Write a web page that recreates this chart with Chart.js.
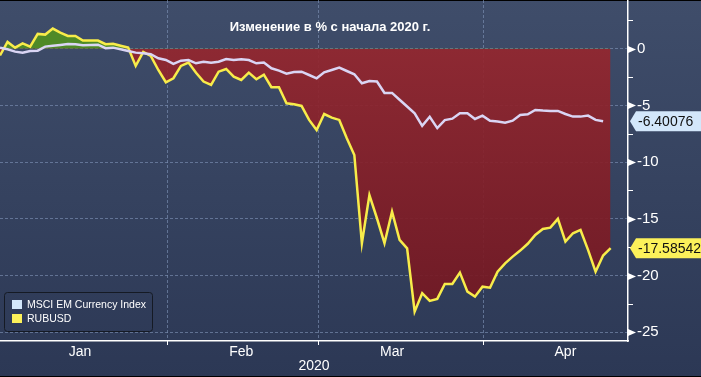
<!DOCTYPE html>
<html>
<head>
<meta charset="utf-8">
<script src="https://cdn.jsdelivr.net/npm/chart.js@4"></script>
<style>
  html, body { margin: 0; padding: 0; background: #000; }
  #wrap { width: 701px; height: 377px; }
</style>
</head>
<body>
<div id="wrap"><canvas id="chart_rubMsci" width="701" height="377"></canvas></div>
<script>
// values, one per trading day (Dec 31 .. Apr 24)
var chartTitle = 'Изменение в % с начала 2020 г.';
var seriesNames = ['MSCI EM Currency Index', 'RUBUSD'];

var msci = [
  0.09, -0.05, -0.26, -0.35, -0.20, -0.18, 0.18, 0.26, 0.33, 0.41,
  0.39, 0.30, 0.33, 0.35, 0.04, 0.09, -0.05, -0.20, -0.35, -0.41,
  -0.49, -0.85, -1.00, -1.35, -1.06, -1.00, -1.29, -1.15, -1.23, -1.15,
  -0.91, -1.00, -0.94, -1.00, -1.29, -1.23, -1.73, -1.94, -2.20, -2.05,
  -2.03, -2.32, -2.61, -2.08, -1.88, -1.67, -1.97, -2.26, -3.05, -2.85,
  -2.90, -3.90, -3.90, -4.50, -5.10, -5.70, -6.80, -6.00, -7.00, -6.30,
  -6.17, -5.70, -5.70, -6.20, -5.90, -6.35, -6.43, -6.52, -6.35, -5.85,
  -5.79, -5.40, -5.46, -5.49, -5.49, -5.76, -5.99, -5.99, -5.90, -6.28,
  -6.40076
];

var rubusd = [
  -0.60, 0.59, 0.09, 0.47, 0.18, 1.30, 1.24, 1.77, 1.41, 1.12,
  1.12, 0.71, 0.71, 0.71, 0.39, 0.44, 0.26, 0.09, -1.52, -0.29,
  -0.64, -1.88, -2.96, -2.61, -1.52, -1.23, -2.12, -2.90, -3.20, -2.03,
  -1.79, -2.47, -2.76, -2.11, -2.70, -2.29, -3.40, -3.40, -4.81, -4.90,
  -5.05, -6.28, -7.17, -5.76, -6.08, -6.28, -7.90, -9.37, -17.15, -12.90,
  -14.95, -17.15, -14.37, -16.86, -17.60, -23.18, -21.56, -22.24, -22.06, -20.74,
  -20.74, -19.74, -21.42, -21.86, -20.98, -21.07, -19.66, -18.92, -18.33, -17.80,
  -17.20, -16.42, -15.89, -15.78, -15.00, -17.01, -16.27, -15.98, -17.74, -19.66,
  -18.24, -17.58542
];

// x axis is trading-day index
var monthLabels = ['Jan', 'Feb', 'Mar', 'Apr'];
var monthCenters = [10.6, 32, 52, 75];
var monthStarts = [22.2, 42.2, 64.1];
var yearLabel = '2020';
var yTicks = [2.5, 0, -2.5, -5, -7.5, -10, -12.5, -15, -17.5, -20, -22.5, -25];

var xMin = 0, xMax = 83.3;
var yMin = -25.77, yMax = 4.29;

var seriesColors = ['#dad5f4', '#f8ec4a'];
var boxColors = ['#d3e7fb', '#fcf15a'];
var gridColor = 'rgba(125,145,180,0.65)';
var fontFamily = '"Liberation Sans", Arial, sans-serif';

var canvas = document.getElementById('chart_rubMsci');
var c2d = canvas.getContext('2d');
var redFill = c2d.createLinearGradient(0, 49, 0, 341);
redFill.addColorStop(0, 'rgba(148,38,46,0.92)');
redFill.addColorStop(1, 'rgba(112,22,32,0.92)');

function noPadding(scale) {
    scale.paddingTop = 0;
    scale.paddingBottom = 0;
    scale.paddingLeft = 0;
    scale.paddingRight = 0;
}

var chart_rubMsci = new Chart(canvas, {
    type: 'line',
    data: {
        datasets: [
            {
                label: seriesNames[0],
                data: msci.map(function (v, i) { return {x: i, y: v}; }),
                borderColor: seriesColors[0],
                borderWidth: 2.5,
                pointRadius: 0,
                tension: 0,
                fill: false
            },
            {
                label: seriesNames[1],
                data: rubusd.map(function (v, i) { return {x: i, y: v}; }),
                borderColor: seriesColors[1],
                borderWidth: 2.5,
                pointRadius: 0,
                tension: 0,
                fill: {
                    target: {value: 0},
                    above: '#4f8a27',
                    below: redFill
                }
            }
        ]
    },
    options: {
        animation: false,
        responsive: false,
        devicePixelRatio: 1,
        layout: {padding: 0},
        plugins: {
            legend: {display: false},
            title: {display: false},
            tooltip: {enabled: false}
        },
        scales: {
            x: {
                type: 'linear',
                min: xMin,
                max: xMax,
                afterBuildTicks: function (scale) {
                    scale.ticks = monthStarts.concat(monthCenters)
                        .sort(function (a, b) { return a - b; })
                        .map(function (v) { return {value: v}; });
                },
                afterFit: function (scale) { scale.height = 36; noPadding(scale); },
                grid: {
                    drawTicks: false,
                    lineWidth: 1,
                    color: function (ctx) {
                        return ctx.tick && monthStarts.indexOf(ctx.tick.value) >= 0 ? gridColor : 'rgba(0,0,0,0)';
                    }
                },
                border: {display: true, color: '#ffffff', width: 1.5, dash: [3, 2]},
                ticks: {
                    autoSkip: false,
                    maxRotation: 0,
                    padding: 3,
                    color: '#ffffff',
                    font: {family: fontFamily, size: 14},
                    callback: function (v) {
                        var k = monthCenters.indexOf(v);
                        return k >= 0 ? monthLabels[k] : '';
                    }
                },
                title: {
                    display: true,
                    text: yearLabel,
                    color: '#ffffff',
                    font: {family: fontFamily, size: 14},
                    padding: {top: 0, bottom: 2}
                }
            },
            y: {
                type: 'linear',
                position: 'right',
                min: yMin,
                max: yMax,
                afterBuildTicks: function (scale) {
                    scale.ticks = yTicks.map(function (v) { return {value: v}; });
                },
                afterFit: function (scale) { scale.width = 73; noPadding(scale); },
                grid: {
                    drawTicks: false,
                    lineWidth: 1,
                    color: function (ctx) {
                        return ctx.tick && ctx.tick.value % 5 === 0 ? gridColor : 'rgba(0,0,0,0)';
                    }
                },
                border: {display: true, color: '#ffffff', width: 1.5, dash: [3, 2]},
                ticks: {
                    autoSkip: false,
                    padding: 9,
                    color: '#ffffff',
                    font: {family: fontFamily, size: 15},
                    callback: function (v) { return v % 5 === 0 ? String(v) : ''; }
                }
            }
        }
    },
    plugins: [{
        id: 'background',
        beforeDraw: function (chart) {
            var ctx = chart.ctx;
            var w = chart.width, h = chart.height;
            ctx.save();
            var g = ctx.createLinearGradient(0, 0, 0, h);
            g.addColorStop(0, '#3f4d6a');
            g.addColorStop(1, '#2c3855');
            ctx.fillStyle = g;
            ctx.fillRect(0, 0, w, h);
            ctx.fillStyle = '#000000';
            ctx.fillRect(0, 0, w, 1);
            ctx.fillRect(0, h - 1, w, 1);
            ctx.restore();
        }
    }, {
        id: 'decorations',
        afterDraw: function (chart) {
            var ctx = chart.ctx;
            var xs = chart.scales.x, ys = chart.scales.y;
            var area = chart.chartArea;
            ctx.save();

            // y axis arrows and minor ticks
            ctx.fillStyle = '#ffffff';
            ctx.strokeStyle = '#ffffff';
            ctx.lineWidth = 1;
            yTicks.forEach(function (v) {
                var y = Math.round(ys.getPixelForValue(v)) + 0.5;
                if (v % 5 === 0) {
                    ctx.beginPath();
                    ctx.moveTo(area.right, y - 3.5);
                    ctx.lineTo(area.right + 8, y);
                    ctx.lineTo(area.right, y + 3.5);
                    ctx.closePath();
                    ctx.fill();
                } else {
                    ctx.beginPath();
                    ctx.moveTo(area.right, y);
                    ctx.lineTo(area.right + 5, y);
                    ctx.stroke();
                }
            });

            // x axis month boundary ticks
            monthStarts.forEach(function (v) {
                var x = Math.round(xs.getPixelForValue(v)) + 0.5;
                ctx.beginPath();
                ctx.moveTo(x, area.bottom);
                ctx.lineTo(x, area.bottom + 4);
                ctx.stroke();
            });

            // title
            ctx.fillStyle = '#ffffff';
            ctx.font = 'bold 13px ' + fontFamily;
            ctx.textAlign = 'center';
            ctx.textBaseline = 'middle';
            ctx.fillText(chartTitle, 330, 27);

            // legend box
            ctx.beginPath();
            ctx.roundRect(4.5, 292.5, 148, 39, 3);
            ctx.strokeStyle = '#151a24';
            ctx.lineWidth = 1;
            ctx.stroke();
            ctx.font = '10.5px ' + fontFamily;
            ctx.textAlign = 'left';
            chart.data.datasets.forEach(function (ds, i) {
                var y = 300 + i * 14;
                ctx.fillStyle = boxColors[i];
                ctx.fillRect(12, y, 10, 9);
                ctx.fillStyle = '#ffffff';
                ctx.fillText(ds.label, 27, y + 5);
            });

            // last value tags
            ctx.font = '14px ' + fontFamily;
            [msci, rubusd].forEach(function (arr, i) {
                var v = arr[arr.length - 1];
                var y = ys.getPixelForValue(v);
                var x0 = area.right + 2;
                ctx.beginPath();
                ctx.moveTo(x0, y);
                ctx.lineTo(x0 + 6, y - 10);
                ctx.lineTo(chart.width, y - 10);
                ctx.lineTo(chart.width, y + 10);
                ctx.lineTo(x0 + 6, y + 10);
                ctx.closePath();
                ctx.fillStyle = boxColors[i];
                ctx.fill();
                ctx.fillStyle = '#111111';
                ctx.textAlign = 'left';
                ctx.fillText(String(v), x0 + 8, y + 1);
            });
            ctx.restore();
        }
    }]
});
</script>
</body>
</html>
